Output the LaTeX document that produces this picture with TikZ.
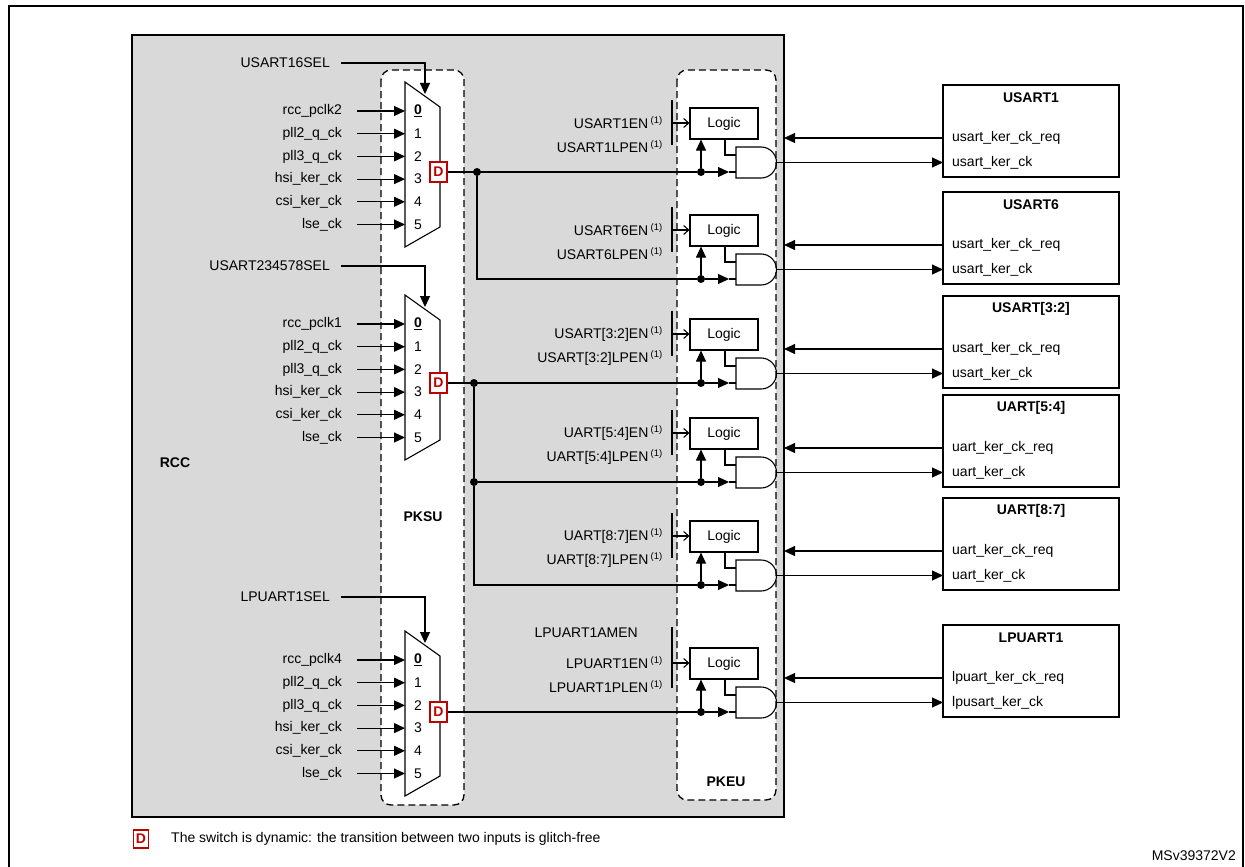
\documentclass[tikz,border=0pt]{standalone}
\usepackage{fontspec}
\setmainfont{Liberation Sans}
\usetikzlibrary{arrows.meta}
\tikzset{x=1pt,y=-1pt,
 lbl/.style={font=\fontsize{14}{16}\selectfont,inner sep=0pt},
 blbl/.style={font=\fontsize{14}{16}\selectfont\bfseries,inner sep=0pt},
 arr/.style={-{Triangle[length=11pt,width=10pt]}},
 oarr/.style={-{Straight Barb[length=5pt,width=9pt]}},
 dbox/.style={draw=red!75!black,text=red!75!black,line width=1.2pt,fill=white,font=\fontsize{14}{15}\selectfont\bfseries,minimum width=17pt,minimum height=20pt,inner sep=0pt},
 dashbox/.style={draw,dashed,dash pattern=on 7pt off 4pt,line width=1.3pt,fill=white,rounded corners=10pt},
 logicbox/.style={draw,line width=1.1pt,minimum width=68pt,minimum height=31pt,font=\fontsize{14}{16}\selectfont,inner sep=0pt},
 dot/.style={circle,fill,inner sep=0pt,minimum size=8pt},
 thin/.style={line width=1.1pt},
}
\newcommand\mymux[6]{%
 \draw[thin] (405,#2-29) -- (440,#2-4) -- (440,#2+116) -- (405,#2+136) -- cycle;
 \foreach \i/\t in {0/#5,1/pll2\_q\_ck,2/pll3\_q\_ck,3/hsi\_ker\_ck,4/csi\_ker\_ck,5/lse\_ck}{
   \node[lbl,anchor=east] (#1in\i) at (342,#2+\i*22.7) {\t};
   \coordinate (#1ip\i) at (405,#2+\i*22.7);
   \draw[arr,thin] (#1in\i.east) ++(15,0) -- (#1ip\i);
 }
 \node[blbl] (#1n0) at (418,#2) {\underline{0}};
 \foreach \i in {1,...,5}{\node[lbl] (#1n\i) at (418,#2+\i*22.7) {\i};}
 \node[dbox] (#1D) at (438.5,#2+#3) {D};
 \node[lbl,anchor=east] (#1sel) at (330,#6) {#4};
 \coordinate (#1top) at (425,#2-17);
 \draw[arr,thin] (#1sel.east) ++(11,0) -| (#1top);
}
% name, c, en, lpen, block, req, ck
\newcommand\chan[7]{%
 \node[logicbox] (#1L) at (724,#2-48.5) {Logic};
 \draw[thin] (672,#2-72) -- (672,#2-27);
 \draw[oarr,thin] (672,#2-49) -- (#1L.west |- 0,#2-49);
 \node[lbl,anchor=east] (#1en) at (663,#2-49) {#3};
 \node[lbl,anchor=east] (#1lp) at (663,#2-25) {#4};
 \draw[thin] (736,#2-25) -- (761,#2-25) arc[start angle=-90,end angle=90,radius=15.5] -- (736,#2+6) -- cycle;
 \coordinate (#1out) at (776.5,#2-9.5);
 \node[dot] (#1dot) at (701,#2) {};
 \draw[arr,thin] (#1dot) -- (#1L.south -| #1dot);
 \draw[arr,thin] (#1dot) -- (729,#2);
 \draw[thin] (729,#2) -- (736,#2);
 \draw[thin] (725,#2-33) |- (736,#2-17);
 \draw[line width=1.8pt] (943,#2-87) rectangle (1119,#2+5);
 \node[blbl] (#1B) at (1031,#2-74) {#5};
 \node[lbl,anchor=west] (#1req) at (952,#2-34) {#6};
 \node[lbl,anchor=west] (#1ck) at (952,#2-9.5) {#7};
 \coordinate (#1ri) at (943,#2-34);
 \coordinate (#1rc) at (784,#2-34);
 \coordinate (#1bi) at (943,#2-9.5);
 \draw[arr,thin] (#1ri) -- (#1rc);
 \draw[arr,thin] (#1out) -- (#1bi);
}
\newcommand\one{\,\textsuperscript{\fontsize{9.5}{10}\selectfont(1)}}
\begin{document}
\begin{tikzpicture}
\useasboundingbox (0,0) rectangle (1245,867);
\fill[white] (0,0) rectangle (1245,867);
\draw[line width=1.8pt] (9,6) rectangle (1243,880);
\draw[line width=2.8pt,fill=black!15] (132,35) rectangle (784,817);
\draw[dashbox] (381,70) rectangle (464,805);
\draw[dashbox] (677,70) rectangle (776,800);
\node[blbl] (rcc) at (175,463) {RCC};
\node[blbl] (pksu) at (423,517) {PKSU};
\node[blbl] (pkeu) at (726,782) {PKEU};

\mymux{ma}{111}{61}{USART16SEL}{rcc\_pclk2}{63}
\mymux{mb}{324}{59}{USART234578SEL}{rcc\_pclk1}{266}
\mymux{mc}{660}{52}{LPUART1SEL}{rcc\_pclk4}{597}

\chan{u1}{172}{USART1EN\one}{USART1LPEN\one}{USART1}{usart\_ker\_ck\_req}{usart\_ker\_ck}
\chan{u6}{279}{USART6EN\one}{USART6LPEN\one}{USART6}{usart\_ker\_ck\_req}{usart\_ker\_ck}
\chan{u32}{383}{USART[3:2]EN\one}{USART[3:2]LPEN\one}{USART[3:2]}{usart\_ker\_ck\_req}{usart\_ker\_ck}
\chan{u54}{482}{UART[5:4]EN\one}{UART[5:4]LPEN\one}{UART[5:4]}{uart\_ker\_ck\_req}{uart\_ker\_ck}
\chan{u87}{585}{UART[8:7]EN\one}{UART[8:7]LPEN\one}{UART[8:7]}{uart\_ker\_ck\_req}{uart\_ker\_ck}
\chan{lp}{712}{LPUART1EN\one}{LPUART1PLEN\one}{LPUART1}{lpuart\_ker\_ck\_req}{lpusart\_ker\_ck}
\node[lbl,anchor=east] (lpamen) at (638,633) {LPUART1AMEN};
\draw[thin] (672,627) -- (672,688);

% clock distribution
\node[dot] (ta) at (477,172) {};
\draw[thin] (maD.east) -- (u1dot);
\draw[thin] (ta) |- (u6dot);
\node[dot] (tb) at (474,383) {};
\node[dot] (tc) at (474,482) {};
\draw[thin] (mbD.east) -- (u32dot);
\draw[thin] (tb) -- (tc);
\draw[thin] (tc) -- (u54dot);
\draw[thin] (tc) |- (u87dot);
\draw[thin] (mcD.east) -- (lpdot);

% legend
\node[dbox,minimum width=15pt,minimum height=18pt] (leg) at (141,839) {D};
\node[lbl,anchor=west] (legt) at (171,839) {The switch is dynamic: the transition between two inputs is glitch-free};
\node[lbl,anchor=east] (ms) at (1236,856) {MSv39372V2};
\end{tikzpicture}
\end{document}
